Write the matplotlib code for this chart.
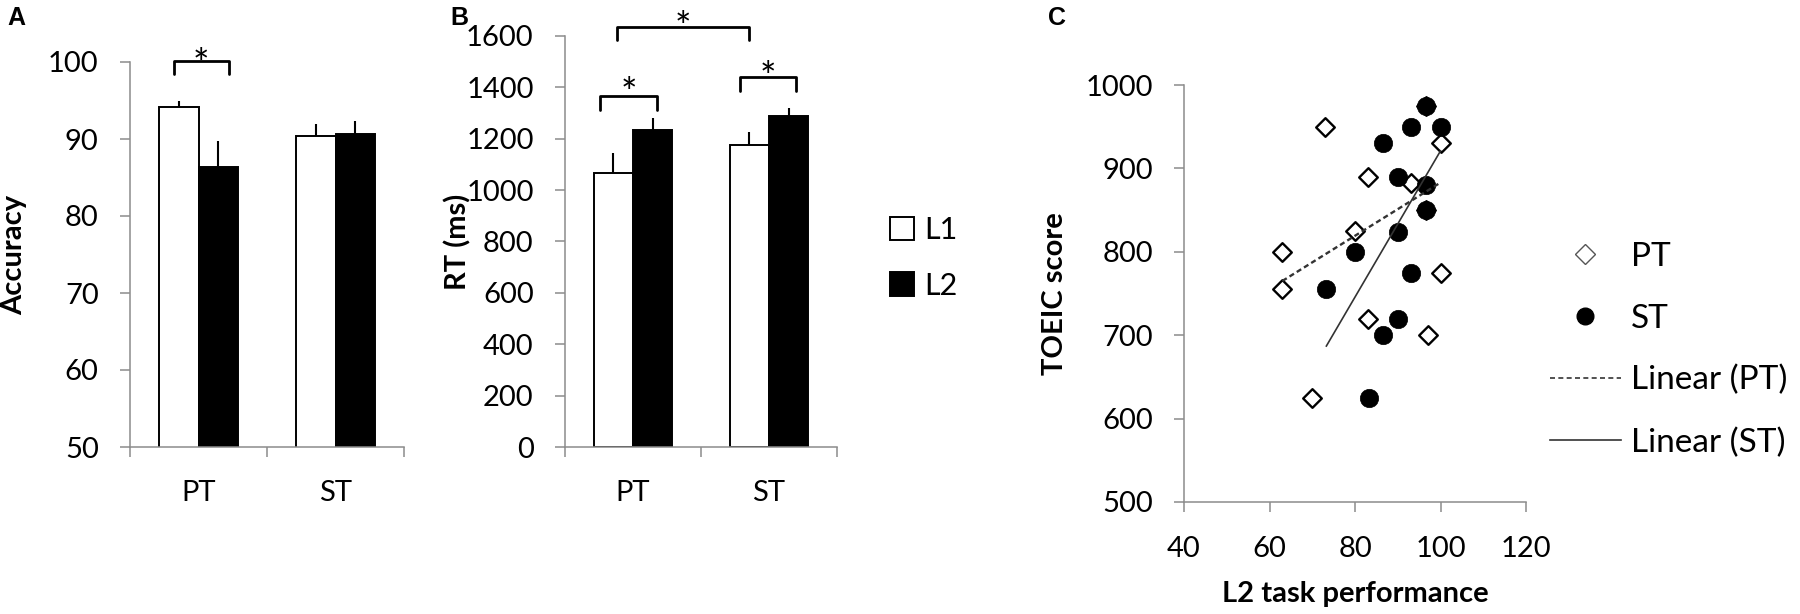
import numpy as np
import matplotlib
matplotlib.use("Agg")
import matplotlib.pyplot as plt
from matplotlib.patches import Patch
from matplotlib.lines import Line2D

plt.rcParams['font.family'] = ['Lato', 'DejaVu Sans']

# ---- data ----
groups = ['PT', 'ST']
conds = ['L1', 'L2']

acc_l1 = [94.1, 90.4]
acc_l2 = [86.4, 90.7]
acc_l1_err = [0.8, 1.5]
acc_l2_err = [3.4, 1.7]

rt_l1 = [1066, 1175]
rt_l2 = [1235, 1287]
rt_l1_err = [78, 50]
rt_l2_err = [45, 32]

# significance brackets: (x left, x right, y of the feet, y of the bar, y of the star)
acc_brackets = [(-0.18, 0.22, 98.4, 100.1, 101.7)]
rt_brackets = [(-0.24, 0.18, 1310, 1365, 1438),
               (0.79, 1.20, 1385, 1440, 1497),
               (-0.12, 0.85, 1583, 1635, 1695)]

pt_perf = [63, 63, 70, 73, 80, 83, 83, 93, 96.5, 96.5, 97, 100, 100]
pt_toeic = [800, 755, 625, 950, 825, 890, 720, 882, 975, 850, 700, 930, 775]
st_perf = [96.5, 93, 100, 86.5, 90, 96.5, 96.5, 90, 80, 73.3, 93, 90, 86.5, 83.3]
st_toeic = [975, 950, 950, 930, 890, 880, 850, 824, 800, 755, 775, 719, 700, 625]

# Excel trend lines (end points)
pt_trend_x = [63, 100]
pt_trend_y = [765, 883]
st_trend_x = [73.3, 100]
st_trend_y = [687, 921]

grey = '#8c8c8c'
tick_fs = 21
lab_fs = 21
star_fs = 28
W, H = 1800, 614

fig = plt.figure(figsize=(W / 100, H / 100), dpi=100)
ax_a = fig.add_axes([130 / W, 1 - 447 / H, 274 / W, 385 / H])
ax_b = fig.add_axes([565 / W, 1 - 447 / H, 272 / W, 411 / H])
ax_c = fig.add_axes([1184 / W, 1 - 502 / H, 342 / W, 417 / H])


def style_axes(ax):
    for s in ['top', 'right']:
        ax.spines[s].set_visible(False)
    for s in ['left', 'bottom']:
        ax.spines[s].set_color(grey)
        ax.spines[s].set_linewidth(1.1)
    ax.tick_params(axis='both', which='major', length=7.5, width=1.1,
                   color=grey, labelsize=tick_fs, labelcolor='black', pad=15)


def bar_panel(ax, l1, l2, e1, e2, brackets):
    x = np.arange(len(groups))
    w = 0.29
    zeros = np.zeros(len(x))
    ax.errorbar(x - w / 2, l1, yerr=[zeros, e1], fmt='none', ecolor='black',
                elinewidth=1.5, capsize=0, zorder=1)
    ax.errorbar(x + w / 2, l2, yerr=[zeros, e2], fmt='none', ecolor='black',
                elinewidth=1.5, capsize=0, zorder=1)
    ax.bar(x - w / 2, l1, w, color='white', edgecolor='black', linewidth=1.4, zorder=2)
    ax.bar(x + w / 2, l2, w, color='black', edgecolor='black', linewidth=1.4, zorder=2)
    ax.set_xlim(-0.5, len(groups) - 0.5)
    ax.set_xticks(np.arange(len(groups) + 1) - 0.5)
    ax.set_xticklabels([])
    ax.set_xticks(x, minor=True)
    ax.set_xticklabels(groups, minor=True)
    style_axes(ax)
    ax.tick_params(axis='x', which='minor', length=0, pad=24, labelsize=tick_fs)
    for xl, xr, yf, yt, ys in brackets:
        ax.plot([xl, xl, xr, xr], [yf, yt, yt, yf], color='black', lw=2.0,
                solid_joinstyle='round', solid_capstyle='round', clip_on=False)
        # the glyph centre of '*' sits well above the baseline
        ax.annotate('*', xy=((xl + xr) / 2, ys), xytext=(0, -0.72 * star_fs),
                    textcoords='offset points', ha='center', va='baseline',
                    fontsize=star_fs, annotation_clip=False)


# ---- A ----
bar_panel(ax_a, acc_l1, acc_l2, acc_l1_err, acc_l2_err, acc_brackets)
ax_a.set_ylim(50, 100)
ax_a.set_yticks(np.arange(50, 101, 10))
ax_a.set_ylabel('Accuracy', fontsize=lab_fs, fontweight='bold')
ax_a.yaxis.set_label_coords(-0.376, 0.5)

# ---- B ----
bar_panel(ax_b, rt_l1, rt_l2, rt_l1_err, rt_l2_err, rt_brackets)
ax_b.set_ylim(0, 1600)
ax_b.set_yticks(np.arange(0, 1601, 200))
ax_b.set_ylabel('RT (ms)', fontsize=lab_fs, fontweight='bold')
ax_b.yaxis.set_label_coords(-0.345, 0.5)
b_handles = [Patch(facecolor='white', edgecolor='black', linewidth=1.4),
             Patch(facecolor='black', edgecolor='black', linewidth=1.4)]
ax_b.legend(b_handles, conds, loc='center left', bbox_to_anchor=(1.195, 0.46),
            frameon=False, fontsize=22, handlelength=0.79, handleheight=0.79,
            handletextpad=0.33, labelspacing=0.9, borderpad=0, borderaxespad=0)

# ---- C ----
ax_c.scatter(pt_perf, pt_toeic, marker='D', s=90, facecolor='white',
             edgecolor='black', linewidths=1.7, zorder=2)
ax_c.scatter(st_perf, st_toeic, marker='o', s=175, facecolor='black',
             edgecolor='black', linewidths=0.5, zorder=3)
ax_c.plot(pt_trend_x, pt_trend_y, color='#333333', lw=1.7,
          linestyle=(0, (2.2, 1.4)), zorder=4)
ax_c.plot(st_trend_x, st_trend_y, color='#333333', lw=1.2, zorder=4)
ax_c.set_xlim(40, 120)
ax_c.set_ylim(500, 1000)
ax_c.set_xticks(np.arange(40, 121, 20))
ax_c.set_yticks(np.arange(500, 1001, 100))
style_axes(ax_c)
ax_c.tick_params(axis='x', pad=17)
ax_c.set_ylabel('TOEIC score', fontsize=lab_fs, fontweight='bold')
ax_c.yaxis.set_label_coords(-0.34, 0.5)
ax_c.set_xlabel('L2 task performance', fontsize=lab_fs, fontweight='bold')
ax_c.xaxis.set_label_coords(0.5, -0.19)
c_handles = [Line2D([], [], marker='D', color='none', markerfacecolor='white',
                    markeredgecolor='#555555', markersize=10, markeredgewidth=1.0),
             Line2D([], [], marker='o', color='none', markerfacecolor='black',
                    markeredgecolor='black', markersize=12),
             Line2D([], [], color='#333333', lw=1.2, linestyle=(0, (3, 2))),
             Line2D([], [], color='#333333', lw=1.2)]
ax_c.legend(c_handles, ['PT', 'ST', 'Linear (PT)', 'Linear (ST)'],
            loc='center left', bbox_to_anchor=(1.069, 0.365), frameon=False,
            fontsize=24, handlelength=2.15, handletextpad=0.3,
            labelspacing=0.95, borderpad=0, borderaxespad=0)

# panel letters
for txt, xp in [('A', 7), ('B', 450), ('C', 1048)]:
    fig.text(xp / W, 1 - 25 / H, txt, fontsize=18, fontweight='bold',
             family=['Liberation Sans', 'DejaVu Sans'], va='baseline', ha='left')

fig.savefig('out.png', dpi=100)
